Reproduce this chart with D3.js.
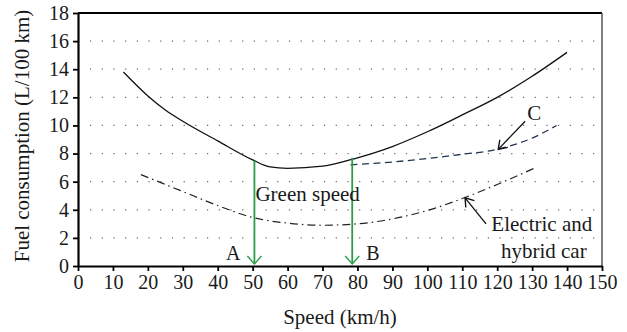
<!DOCTYPE html>
<html>
<head>
<meta charset="utf-8">
<script src="https://cdn.jsdelivr.net/npm/d3@7"></script>
<style>
  body { margin: 0; background: #fff; }
  text { font-family: "Liberation Serif", "DejaVu Serif", serif; fill: #1a1a1a; }
</style>
</head>
<body>
<div id="chart"></div>
<script>
// data
const conventional = [[13,13.8],[20,12.1],[25,11.1],[30,10.3],[40,8.9],[50,7.55],[55,7.05],[60,6.95],[70,7.1],[80,7.7],[90,8.5],[100,9.55],[110,10.75],[120,12.0],[130,13.5],[140,15.2]];
const curveC = [[78,7.2],[90,7.4],[100,7.65],[110,7.95],[120,8.3],[130,9.1],[137,10.0]];
const electric = [[18,6.5],[25,5.8],[30,5.3],[40,4.3],[50,3.45],[60,3.05],[70,2.9],[80,3.0],[90,3.35],[100,3.95],[110,4.8],[120,5.8],[131,7.0]];
const greenSpeeds = [[50.5,7.5,"A"],[78.5,7.7,"B"]];
const xTicks = d3.range(0,151,10);
const yTicks = d3.range(0,19,2);

const W = 627, H = 332;
const margin = {top: 13, right: 25, bottom: 66, left: 78};
const FS = "20px";

const svg = d3.select("#chart").append("svg")
    .attr("width", W).attr("height", H);

const x = d3.scaleLinear().domain([0,150]).range([margin.left, W - margin.right]);
const y = d3.scaleLinear().domain([0,18]).range([H - margin.bottom, margin.top]);

const defs = svg.append("defs");
function marker(id, color, w) {
  defs.append("marker")
    .attr("id", id).attr("viewBox", "-10 -8 12 16")
    .attr("refX", 0).attr("refY", 0)
    .attr("markerWidth", 12).attr("markerHeight", 16)
    .attr("markerUnits", "userSpaceOnUse")
    .attr("orient", "auto")
    .append("path").attr("d", `M-8,-${w}L0,0L-8,${w}`)
    .attr("fill", "none").attr("stroke", color).attr("stroke-width", 1.4);
}
marker("ag", "#2a9d48", 7);
marker("ak", "#111", 5.5);

// dotted gridlines
svg.append("g").selectAll("line")
  .data(yTicks.filter(d => d > 0 && d < 18))
  .join("line")
  .attr("x1", x(0) + 12).attr("x2", x(150) - 4)
  .attr("y1", d => y(d)).attr("y2", d => y(d))
  .attr("stroke", "#666").attr("stroke-width", 1.2)
  .attr("stroke-dasharray", "1.2,10.5");

// frame top / right
svg.append("line").attr("x1", x(0)).attr("x2", x(150)).attr("y1", y(18)).attr("y2", y(18))
  .attr("stroke", "#000").attr("stroke-width", 2);
svg.append("line").attr("x1", x(150)).attr("x2", x(150)).attr("y1", y(18)).attr("y2", y(0))
  .attr("stroke", "#555").attr("stroke-width", 1.5);

// axes
const xAxis = svg.append("g").attr("transform", `translate(0,${y(0)})`)
  .call(d3.axisBottom(x).tickValues(xTicks).tickSize(5).tickPadding(4).tickSizeOuter(0));
const yAxis = svg.append("g").attr("transform", `translate(${x(0)},0)`)
  .call(d3.axisLeft(y).tickValues(yTicks).tickSize(5).tickPadding(4).tickSizeOuter(0));
[xAxis, yAxis].forEach(a => {
  a.select(".domain").attr("stroke", "#000").attr("stroke-width", 2.2);
  a.selectAll(".tick line").attr("stroke", "#000").attr("stroke-width", 1.8);
  a.selectAll("text").style("font-size", FS).attr("fill", "#1a1a1a")
    .style("font-family", "'Liberation Serif', serif");
});

const line = d3.line().x(d => x(d[0])).y(d => y(d[1])).curve(d3.curveMonotoneX);

svg.append("path").datum(conventional).attr("d", line)
  .attr("fill", "none").attr("stroke", "#111").attr("stroke-width", 1.3);
svg.append("path").datum(curveC).attr("d", line)
  .attr("fill", "none").attr("stroke", "#1f3352").attr("stroke-width", 1.3)
  .attr("stroke-dasharray", "7,4.5");
svg.append("path").datum(electric).attr("d", line)
  .attr("fill", "none").attr("stroke", "#222").attr("stroke-width", 1.2)
  .attr("stroke-dasharray", "8,4,1.5,4");

// green speed arrows
svg.append("g").selectAll("line").data(greenSpeeds).join("line")
  .attr("x1", d => x(d[0])).attr("x2", d => x(d[0]))
  .attr("y1", d => y(d[1])).attr("y2", d => y(0) - 2)
  .attr("stroke", "#2a9d48").attr("stroke-width", 1.8)
  .attr("marker-end", "url(#ag)");
svg.append("g").selectAll("text").data(greenSpeeds).join("text")
  .attr("x", (d, i) => i === 0 ? x(d[0]) - 14 : x(d[0]) + 14)
  .attr("y", y(0) - 6)
  .attr("text-anchor", (d, i) => i === 0 ? "end" : "start")
  .style("font-size", FS).text(d => d[2]);
svg.append("text").attr("x", x(50.5) + 1).attr("y", y(4.6))
  .style("font-size", "21px").text("Green speed");

// C annotation
svg.append("line").attr("x1", x(128)).attr("y1", y(10.3)).attr("x2", x(120.3)).attr("y2", y(8.3))
  .attr("stroke", "#111").attr("stroke-width", 1.3).attr("marker-end", "url(#ak)");
svg.append("text").attr("x", x(128.6)).attr("y", y(10.4))
  .style("font-size", "21px").text("C");

// electric annotation
svg.append("line").attr("x1", x(116.8)).attr("y1", y(3.0)).attr("x2", x(110.8)).attr("y2", y(4.85))
  .attr("stroke", "#111").attr("stroke-width", 1.3).attr("marker-end", "url(#ak)");
svg.append("text").attr("x", x(147.2)).attr("y", y(2.5)).attr("text-anchor", "end")
  .style("font-size", "21px").text("Electric and");
svg.append("text").attr("x", x(145.6)).attr("y", y(0.6)).attr("text-anchor", "end")
  .style("font-size", "21px").text("hybrid car");

// axis titles
svg.append("text").attr("x", x(75)).attr("y", 324).attr("text-anchor", "middle")
  .style("font-size", "21px").text("Speed (km/h)");
svg.append("text").attr("transform", `translate(22,136) rotate(-90)`)
  .attr("text-anchor", "middle").attr("dy", "0.35em")
  .style("font-size", "21px").text("Fuel consumption (L/100 km)");
</script>
</body>
</html>
